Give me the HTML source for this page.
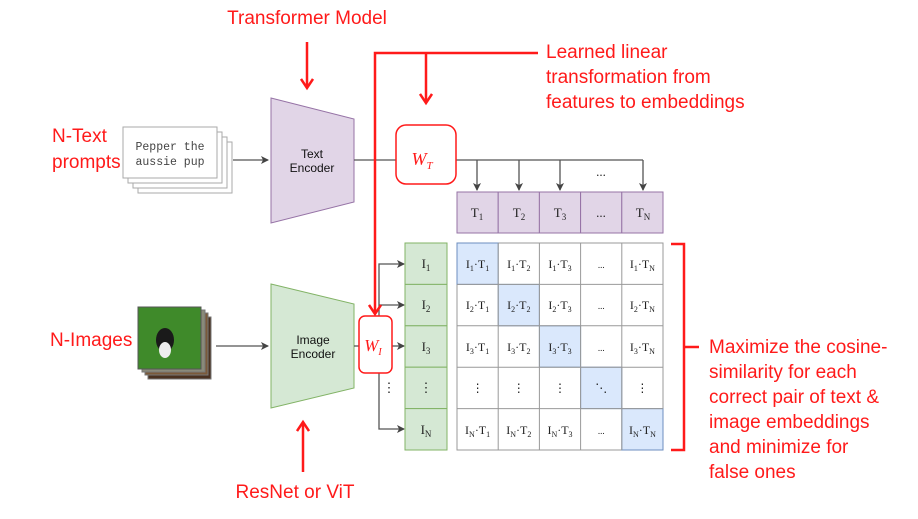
<!DOCTYPE html>
<html><head><meta charset="utf-8"><style>
body{margin:0;background:#fff;width:918px;height:519px;overflow:hidden}
svg{display:block}
.r{fill:#ff1a1a;font-family:"Liberation Sans",sans-serif;font-size:19px}
.s{font-family:"Liberation Serif",serif;font-size:13px;fill:#222;text-anchor:middle}
</style></head><body>
<svg width="918" height="519" viewBox="0 0 918 519" xmlns="http://www.w3.org/2000/svg">
<defs>
<marker id="ga" markerWidth="8" markerHeight="8" refX="7" refY="4" orient="auto" markerUnits="userSpaceOnUse"><path d="M0,0 L8,4 L0,8 L2,4z" fill="#444"/></marker>
<marker id="ra" markerWidth="14" markerHeight="14" refX="11" refY="7" orient="auto" markerUnits="userSpaceOnUse"><path d="M2,1 L11,7 L2,13" fill="none" stroke="#ff1a1a" stroke-width="2.5"/></marker>
</defs>
<!-- text prompts -->
<g fill="#fff" stroke="#aaa" stroke-width="1">
<rect x="138" y="142" width="94" height="51"/>
<rect x="133" y="137" width="94" height="51"/>
<rect x="128" y="132" width="94" height="51"/>
<rect x="123" y="127" width="94" height="51"/>
</g>
<text x="170" y="150" font-family="Liberation Mono,monospace" font-size="11.5" fill="#444" text-anchor="middle">Pepper the</text>
<text x="170" y="165" font-family="Liberation Mono,monospace" font-size="11.5" fill="#444" text-anchor="middle">aussie pup</text>
<line x1="233" y1="160" x2="268" y2="160" stroke="#555" stroke-width="1.3" marker-end="url(#ga)"/>
<polygon points="271,98 354,119 354,202 271,223" fill="#e1d5e7" stroke="#9673a6"/>
<text x="312" y="158" font-family="Liberation Sans,sans-serif" font-size="12" text-anchor="middle" fill="#111">Text</text>
<text x="312" y="172" font-family="Liberation Sans,sans-serif" font-size="12" text-anchor="middle" fill="#111">Encoder</text>
<!-- image stack -->
<rect x="148" y="317" width="63" height="62" fill="#4a3120" stroke="#777"/>
<rect x="145" y="313" width="63" height="62" fill="#7a5a3a" stroke="#777"/>
<rect x="142" y="310" width="63" height="62" fill="#8a8a7a" stroke="#777"/>
<rect x="138" y="307" width="63" height="62" fill="#3f8a2a" stroke="#555"/>
<ellipse cx="165" cy="340" rx="9" ry="12" fill="#1a1a1a"/>
<ellipse cx="165" cy="350" rx="6" ry="8" fill="#eee"/>
<line x1="216" y1="346" x2="268" y2="346" stroke="#555" stroke-width="1.3" marker-end="url(#ga)"/>
<polygon points="271,284 354,304 354,388 271,408" fill="#d5e8d4" stroke="#82b366"/>
<text x="313" y="344" font-family="Liberation Sans,sans-serif" font-size="12" text-anchor="middle" fill="#111">Image</text>
<text x="313" y="358" font-family="Liberation Sans,sans-serif" font-size="12" text-anchor="middle" fill="#111">Encoder</text>
<!-- text line -->
<line x1="354" y1="160" x2="396" y2="160" stroke="#555" stroke-width="1.3"/>
<line x1="456" y1="160" x2="643" y2="160" stroke="#555" stroke-width="1.3"/>
<g stroke="#555" stroke-width="1.3">
<line x1="477" y1="160" x2="477" y2="190" marker-end="url(#ga)"/>
<line x1="519" y1="160" x2="519" y2="190" marker-end="url(#ga)"/>
<line x1="560" y1="160" x2="560" y2="190" marker-end="url(#ga)"/>
<line x1="643" y1="160" x2="643" y2="190" marker-end="url(#ga)"/>
</g>
<text x="601" y="176" class="s" font-size="10">...</text>
<!-- T row -->
<g fill="#e1d5e7" stroke="#9673a6">
<rect x="457" y="192" width="41.2" height="41"/><rect x="498.2" y="192" width="41.2" height="41"/><rect x="539.4" y="192" width="41.2" height="41"/><rect x="580.6" y="192" width="41.2" height="41"/><rect x="621.8" y="192" width="41.2" height="41"/>
</g>
<g class="s"><text x="477" y="217" class="s">T<tspan font-size="9" dy="3">1</tspan></text><text x="519" y="217" class="s">T<tspan font-size="9" dy="3">2</tspan></text><text x="560" y="217" class="s">T<tspan font-size="9" dy="3">3</tspan></text><text x="601" y="217" class="s">...</text><text x="643" y="217" class="s">T<tspan font-size="9" dy="3">N</tspan></text></g>
<!-- image branches -->
<line x1="354" y1="346" x2="359" y2="346" stroke="#555" stroke-width="1.3"/>
<line x1="392" y1="346" x2="404" y2="346" stroke="#555" stroke-width="1.3" marker-end="url(#ga)"/>
<polyline points="379,316 379,264 404,264" fill="none" stroke="#555" stroke-width="1.3" marker-end="url(#ga)"/>
<line x1="379" y1="305" x2="404" y2="305" stroke="#555" stroke-width="1.3" marker-end="url(#ga)"/>
<polyline points="379,373 379,429 404,429" fill="none" stroke="#555" stroke-width="1.3" marker-end="url(#ga)"/>
<text x="389" y="392" class="s" font-size="10">⋮</text>
<!-- I column -->
<g fill="#d5e8d4" stroke="#82b366">
<rect x="405" y="243" width="42" height="41.4"/><rect x="405" y="284.4" width="42" height="41.4"/><rect x="405" y="325.8" width="42" height="41.4"/><rect x="405" y="367.2" width="42" height="41.4"/><rect x="405" y="408.6" width="42" height="41.4"/>
</g>
<text x="426" y="268" class="s">I<tspan font-size="9" dy="3">1</tspan></text>
<text x="426" y="309" class="s">I<tspan font-size="9" dy="3">2</tspan></text>
<text x="426" y="351" class="s">I<tspan font-size="9" dy="3">3</tspan></text>
<text x="426" y="392" class="s">⋮</text>
<text x="426" y="434" class="s">I<tspan font-size="9" dy="3">N</tspan></text>
<!-- grid -->
<g stroke="#999" fill="#fff">
<rect x="457" y="243" width="206" height="207"/>
</g>
<g fill="#dae8fc" stroke="#6c8ebf">
<rect x="457" y="243" width="41.2" height="41.4"/><rect x="498.2" y="284.4" width="41.2" height="41.4"/><rect x="539.4" y="325.8" width="41.2" height="41.4"/><rect x="580.6" y="367.2" width="41.2" height="41.4"/><rect x="621.8" y="408.6" width="41.2" height="41.4"/>
</g>
<g stroke="#999" stroke-width="1">
<line x1="498.2" y1="243" x2="498.2" y2="450"/><line x1="539.4" y1="243" x2="539.4" y2="450"/><line x1="580.6" y1="243" x2="580.6" y2="450"/><line x1="621.8" y1="243" x2="621.8" y2="450"/>
<line x1="457" y1="284.4" x2="663" y2="284.4"/><line x1="457" y1="325.8" x2="663" y2="325.8"/><line x1="457" y1="367.2" x2="663" y2="367.2"/><line x1="457" y1="408.6" x2="663" y2="408.6"/>
</g>
<g font-family="Liberation Serif,serif" font-size="12" fill="#222" text-anchor="middle">
<text x="477.6" y="268">I<tspan font-size="8" dy="3">1</tspan><tspan dy="-3">·T</tspan><tspan font-size="8" dy="3">1</tspan></text>
<text x="518.8" y="268">I<tspan font-size="8" dy="3">1</tspan><tspan dy="-3">·T</tspan><tspan font-size="8" dy="3">2</tspan></text>
<text x="560" y="268">I<tspan font-size="8" dy="3">1</tspan><tspan dy="-3">·T</tspan><tspan font-size="8" dy="3">3</tspan></text>
<text x="601.2" y="268" font-size="9">...</text>
<text x="642.4" y="268">I<tspan font-size="8" dy="3">1</tspan><tspan dy="-3">·T</tspan><tspan font-size="8" dy="3">N</tspan></text>
<text x="477.6" y="309">I<tspan font-size="8" dy="3">2</tspan><tspan dy="-3">·T</tspan><tspan font-size="8" dy="3">1</tspan></text>
<text x="518.8" y="309">I<tspan font-size="8" dy="3">2</tspan><tspan dy="-3">·T</tspan><tspan font-size="8" dy="3">2</tspan></text>
<text x="560" y="309">I<tspan font-size="8" dy="3">2</tspan><tspan dy="-3">·T</tspan><tspan font-size="8" dy="3">3</tspan></text>
<text x="601.2" y="309" font-size="9">...</text>
<text x="642.4" y="309">I<tspan font-size="8" dy="3">2</tspan><tspan dy="-3">·T</tspan><tspan font-size="8" dy="3">N</tspan></text>
<text x="477.6" y="351">I<tspan font-size="8" dy="3">3</tspan><tspan dy="-3">·T</tspan><tspan font-size="8" dy="3">1</tspan></text>
<text x="518.8" y="351">I<tspan font-size="8" dy="3">3</tspan><tspan dy="-3">·T</tspan><tspan font-size="8" dy="3">2</tspan></text>
<text x="560" y="351">I<tspan font-size="8" dy="3">3</tspan><tspan dy="-3">·T</tspan><tspan font-size="8" dy="3">3</tspan></text>
<text x="601.2" y="351" font-size="9">...</text>
<text x="642.4" y="351">I<tspan font-size="8" dy="3">3</tspan><tspan dy="-3">·T</tspan><tspan font-size="8" dy="3">N</tspan></text>
<text x="477.6" y="392">⋮</text><text x="518.8" y="392">⋮</text><text x="560" y="392">⋮</text><text x="601.2" y="392">⋱</text><text x="642.4" y="392">⋮</text>
<text x="477.6" y="434">I<tspan font-size="8" dy="3">N</tspan><tspan dy="-3">·T</tspan><tspan font-size="8" dy="3">1</tspan></text>
<text x="518.8" y="434">I<tspan font-size="8" dy="3">N</tspan><tspan dy="-3">·T</tspan><tspan font-size="8" dy="3">2</tspan></text>
<text x="560" y="434">I<tspan font-size="8" dy="3">N</tspan><tspan dy="-3">·T</tspan><tspan font-size="8" dy="3">3</tspan></text>
<text x="601.2" y="434" font-size="9">...</text>
<text x="642.4" y="434">I<tspan font-size="8" dy="3">N</tspan><tspan dy="-3">·T</tspan><tspan font-size="8" dy="3">N</tspan></text>
</g>
<!-- red -->
<g stroke="#ff1a1a" stroke-width="2.5" fill="none">
<polyline points="538,53 375,53 375,314" marker-end="url(#ra)"/>
<line x1="426" y1="53" x2="426" y2="103" marker-end="url(#ra)"/>
<line x1="307" y1="42" x2="307" y2="88" marker-end="url(#ra)"/>
<line x1="303" y1="472" x2="303" y2="422" marker-end="url(#ra)"/>
<polyline points="671,244 684,244 684,450 671,450"/>
<line x1="684" y1="347" x2="699" y2="347"/>
</g>
<rect x="396" y="125" width="60" height="59" rx="10" fill="#fff" stroke="#ff1a1a" stroke-width="1.5"/>
<text x="422" y="165" font-family="Liberation Serif,serif" font-style="italic" font-size="18" fill="#ff1a1a" text-anchor="middle">W<tspan font-size="11" dy="4">T</tspan></text>
<rect x="359" y="316" width="33" height="57" rx="6" fill="#fff" stroke="#ff1a1a" stroke-width="1.5"/>
<text x="373" y="351" font-family="Liberation Serif,serif" font-style="italic" font-size="17" fill="#ff1a1a" text-anchor="middle">W<tspan font-size="10" dy="4">I</tspan></text>
<text class="r" x="307" y="24" text-anchor="middle">Transformer Model</text>
<text class="r" x="295" y="498" text-anchor="middle">ResNet or ViT</text>
<text class="r" x="52" y="142">N-Text</text>
<text class="r" x="52" y="168">prompts</text>
<text class="r" x="50" y="346">N-Images</text>
<text class="r" x="546" y="58">Learned linear</text>
<text class="r" x="546" y="83">transformation from</text>
<text class="r" x="546" y="108">features to embeddings</text>
<text class="r" x="709" y="353">Maximize the cosine-</text>
<text class="r" x="709" y="378">similarity for each</text>
<text class="r" x="709" y="403">correct pair of text &amp;</text>
<text class="r" x="709" y="428">image embeddings</text>
<text class="r" x="709" y="453">and minimize for</text>
<text class="r" x="709" y="478">false ones</text>
</svg>
</body></html>
